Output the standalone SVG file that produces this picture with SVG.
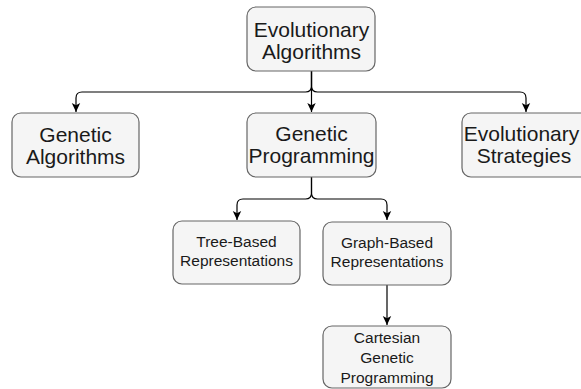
<svg xmlns="http://www.w3.org/2000/svg" width="581" height="389" viewBox="0 0 581 389">
<style>
.box{fill:#f5f5f5;stroke:#666666;stroke-width:1.2}
.t{font-family:"Liberation Sans",Arial,sans-serif;fill:#1a1a1a;text-anchor:middle}
.big{font-size:21px}
.small{font-size:15.5px}
.edge{fill:none;stroke:#000;stroke-width:1.2}
</style>
<defs>
<marker id="arr" markerWidth="10" markerHeight="10" refX="9" refY="5" orient="auto" markerUnits="userSpaceOnUse">
<path d="M0,0.8 L9,5 L0,9.2 L2.2,5 Z" fill="#000"/>
</marker>
</defs>
<g id="connectors">
<path class="edge" d="M311.5,71 L311.5,112" marker-end="url(#arr)"/>
<path class="edge" d="M311.5,71 L311.5,86 Q311.5,92 305.5,92 L82,92 Q76,92 76,98 L76,112" marker-end="url(#arr)"/>
<path class="edge" d="M311.5,71 L311.5,86 Q311.5,92 317.5,92 L520,92 Q526,92 526,98 L526,112" marker-end="url(#arr)"/>
<path class="edge" d="M311.5,177 L311.5,193 Q311.5,199 305.5,199 L243,199 Q237,199 237,205 L237,220" marker-end="url(#arr)"/>
<path class="edge" d="M311.5,177 L311.5,193 Q311.5,199 317.5,199 L381,199 Q387,199 387,205 L387,220" marker-end="url(#arr)"/>
<path class="edge" d="M387,285 L387,325" marker-end="url(#arr)"/>
</g>
<g id="evolutionary-algorithms">
<rect class="box" x="247" y="7" width="128" height="64" rx="9"/>
<text class="t big" x="311.5" y="37">Evolutionary</text>
<text class="t big" x="311.5" y="59">Algorithms</text>
</g>
<g id="genetic-algorithms">
<rect class="box" x="12" y="113" width="127" height="64" rx="9"/>
<text class="t big" x="75.5" y="141.5">Genetic</text>
<text class="t big" x="75.5" y="163.5">Algorithms</text>
</g>
<g id="genetic-programming">
<rect class="box" x="247" y="113" width="129" height="64" rx="9"/>
<text class="t big" x="311.5" y="141">Genetic</text>
<text class="t big" x="311.5" y="163">Programming</text>
</g>
<g id="evolutionary-strategies">
<rect class="box" x="462" y="113" width="128" height="64" rx="9"/>
<text class="t big" x="521.5" y="141">Evolutionary</text>
<text class="t big" x="524" y="163">Strategies</text>
</g>
<g id="tree-based">
<rect class="box" x="173" y="221" width="127" height="63" rx="9"/>
<text class="t small" x="236.5" y="247">Tree-Based</text>
<text class="t small" x="236.5" y="266">Representations</text>
</g>
<g id="graph-based">
<rect class="box" x="323" y="222" width="128" height="63" rx="9"/>
<text class="t small" x="387" y="248">Graph-Based</text>
<text class="t small" x="387" y="267">Representations</text>
</g>
<g id="cartesian-gp">
<rect class="box" x="323" y="326" width="128" height="62" rx="9"/>
<text class="t small" x="387" y="343">Cartesian</text>
<text class="t small" x="387" y="363">Genetic</text>
<text class="t small" x="387" y="383">Programming</text>
</g>
</svg>
